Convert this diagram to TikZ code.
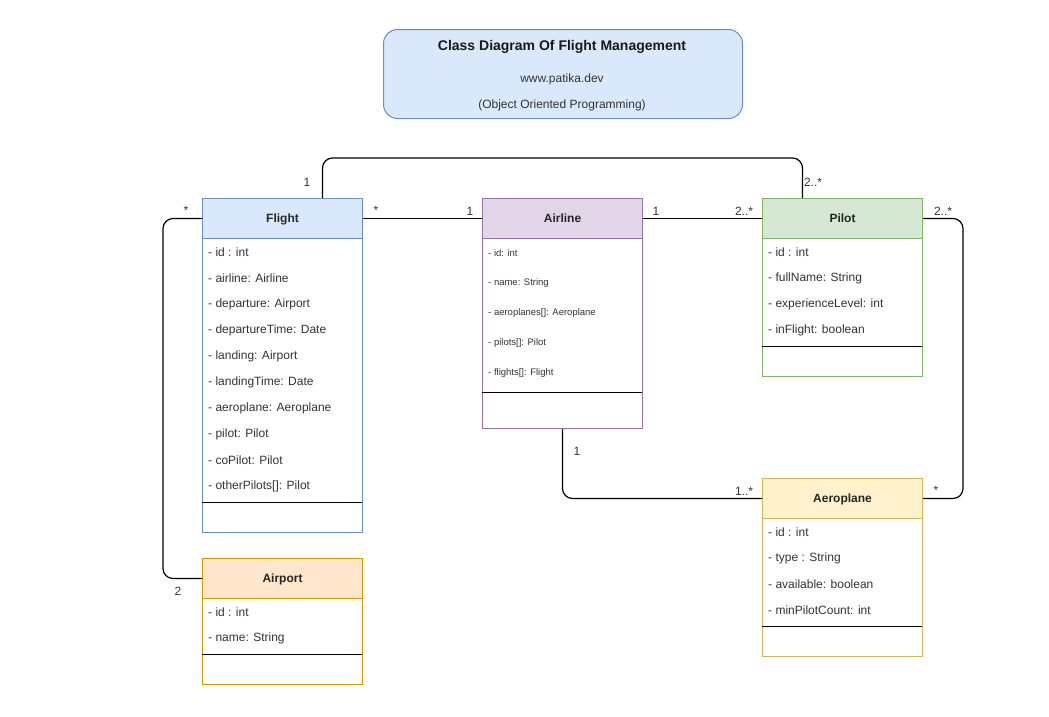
\documentclass[tikz,border=0pt]{standalone}
\usepackage{fontspec}
\setmainfont{Liberation Sans}
\usetikzlibrary{calc}
\definecolor{bluefill}{HTML}{DAE8FC}
\definecolor{bluestroke}{HTML}{6C8EBF}
\definecolor{purplefill}{HTML}{E1D5E7}
\definecolor{purplestroke}{HTML}{9673A6}
\definecolor{greenfill}{HTML}{D5E8D4}
\definecolor{greenstroke}{HTML}{82B366}
\definecolor{yellowfill}{HTML}{FFF2CC}
\definecolor{yellowstroke}{HTML}{D6B656}
\definecolor{orangefill}{HTML}{FFE6CC}
\definecolor{orangestroke}{HTML}{D79B00}
\definecolor{txt}{HTML}{333333}
\begin{document}
\begin{tikzpicture}[x=1pt,y=-1pt,
  hdr/.style 2 args={draw=#1, fill=#2, line width=1pt, minimum width=160pt, minimum height=40pt,
    inner sep=0pt, anchor=north west, font=\fontsize{12}{14}\selectfont\bfseries, text=black!85,
    text depth=0pt, text height=7pt},
  body/.style 2 args={draw=#1, line width=1pt, minimum width=160pt, minimum height=#2,
    inner sep=0pt, anchor=north west},
  attr/.style={anchor=west, inner sep=0pt, font=\fontsize{12}{14}\selectfont, text=txt},
  sattr/.style={anchor=west, inner sep=0pt, font=\fontsize{9.5}{11}\selectfont, text=txt},
  sep/.style={line width=1pt, black},
  conn/.style={line width=1.2pt, black, rounded corners=10pt},
  mult/.style={inner sep=0pt, font=\fontsize{12}{14}\selectfont, text=txt},
]
\useasboundingbox[fill=white] (0,0) rectangle (1049,716);

% Title
\node[draw=bluestroke, fill=bluefill, line width=1pt, rounded corners=14pt, minimum width=359pt,
  minimum height=89pt, anchor=north west, inner sep=0pt] (title) at (383,29) {};
\node[inner sep=0pt, font=\fontsize{14}{16}\selectfont\bfseries, text=black!90] (t1) at (562,47) {Class Diagram Of Flight Management};
\node[inner sep=0pt, font=\fontsize{12}{14}\selectfont, text=txt] (t2) at (562,79) {www.patika.dev};
\node[inner sep=0pt, font=\fontsize{12}{14}\selectfont, text=txt] (t3) at (562,105) {(Object Oriented Programming)};

% Flight
\node[hdr={bluestroke}{bluefill}] (flight) at (202,198) {Flight};
\node[body={bluestroke}{294pt}] (flightbody) at (202,238) {};
\draw[sep] (202,502) -- (362,502);
\foreach \t [count=\i from 0] in {{- id : int},{- airline: Airline},{- departure: Airport},{- departureTime: Date},{- landing: Airport},{- landingTime: Date},{- aeroplane: Aeroplane},{- pilot: Pilot},{- coPilot: Pilot},{- otherPilots[]: Pilot}}
  \node[attr] (fa\i) at (208,{252+26*\i}) {\t};

% Airline
\node[hdr={purplestroke}{purplefill}] (airline) at (482,198) {Airline};
\node[body={purplestroke}{190pt}] (airlinebody) at (482,238) {};
\draw[sep] (482,392) -- (642,392);
\foreach \t [count=\i from 0] in {{- id: int},{- name: String},{- aeroplanes[]: Aeroplane},{- pilots[]: Pilot},{- flights[]: Flight}}
  \node[sattr] (la\i) at (488,{253+30*\i}) {\t};

% Pilot
\node[hdr={greenstroke}{greenfill}] (pilot) at (762,198) {Pilot};
\node[body={greenstroke}{138pt}] (pilotbody) at (762,238) {};
\draw[sep] (762,346) -- (922,346);
\foreach \t [count=\i from 0] in {{- id : int},{- fullName: String},{- experienceLevel: int},{- inFlight: boolean}}
  \node[attr] (pa\i) at (768,{252+26*\i}) {\t};

% Aeroplane
\node[hdr={yellowstroke}{yellowfill}] (aeroplane) at (762,478) {Aeroplane};
\node[body={yellowstroke}{138pt}] (aeroplanebody) at (762,518) {};
\draw[sep] (762,626) -- (922,626);
\foreach \t [count=\i from 0] in {{- id : int},{- type : String},{- available: boolean},{- minPilotCount: int}}
  \node[attr] (aa\i) at (768,{532+26*\i}) {\t};

% Airport
\node[hdr={orangestroke}{orangefill}] (airport) at (202,558) {Airport};
\node[body={orangestroke}{86pt}] (airportbody) at (202,598) {};
\draw[sep] (202,654) -- (362,654);
\foreach \t [count=\i from 0] in {{- id : int},{- name: String}}
  \node[attr] (pta\i) at (208,{612+26*\i}) {\t};

% Connectors
\draw[conn] (flight.east) -- (airline.west);
\draw[conn] ([xshift=40pt]flight.north) -- ++(0,-40) -| ([xshift=-40pt]pilot.north);
\draw[conn] (airline.east) -- (pilot.west);
\draw[conn] (flight.west) -- ++(-39,0) |- (airport.west);
\draw[conn] (airlinebody.south) |- (aeroplane.west);
\draw[conn] (pilot.east) -- ++(40,0) |- (aeroplane.east);

% Multiplicities
\node[mult] (m1) at (376,210) {*};
\node[mult] (m2) at (470,211) {1};
\node[mult] (m3) at (307,182) {1};
\node[mult] (m4) at (813,182) {2..*};
\node[mult] (m5) at (656,211) {1};
\node[mult] (m6) at (744,211) {2..*};
\node[mult] (m7) at (186,210) {*};
\node[mult] (m8) at (178,591) {2};
\node[mult] (m9) at (577,451) {1};
\node[mult] (m10) at (744,491) {1..*};
\node[mult] (m11) at (943,211) {2..*};
\node[mult] (m12) at (936,490) {*};
\end{tikzpicture}
\end{document}
